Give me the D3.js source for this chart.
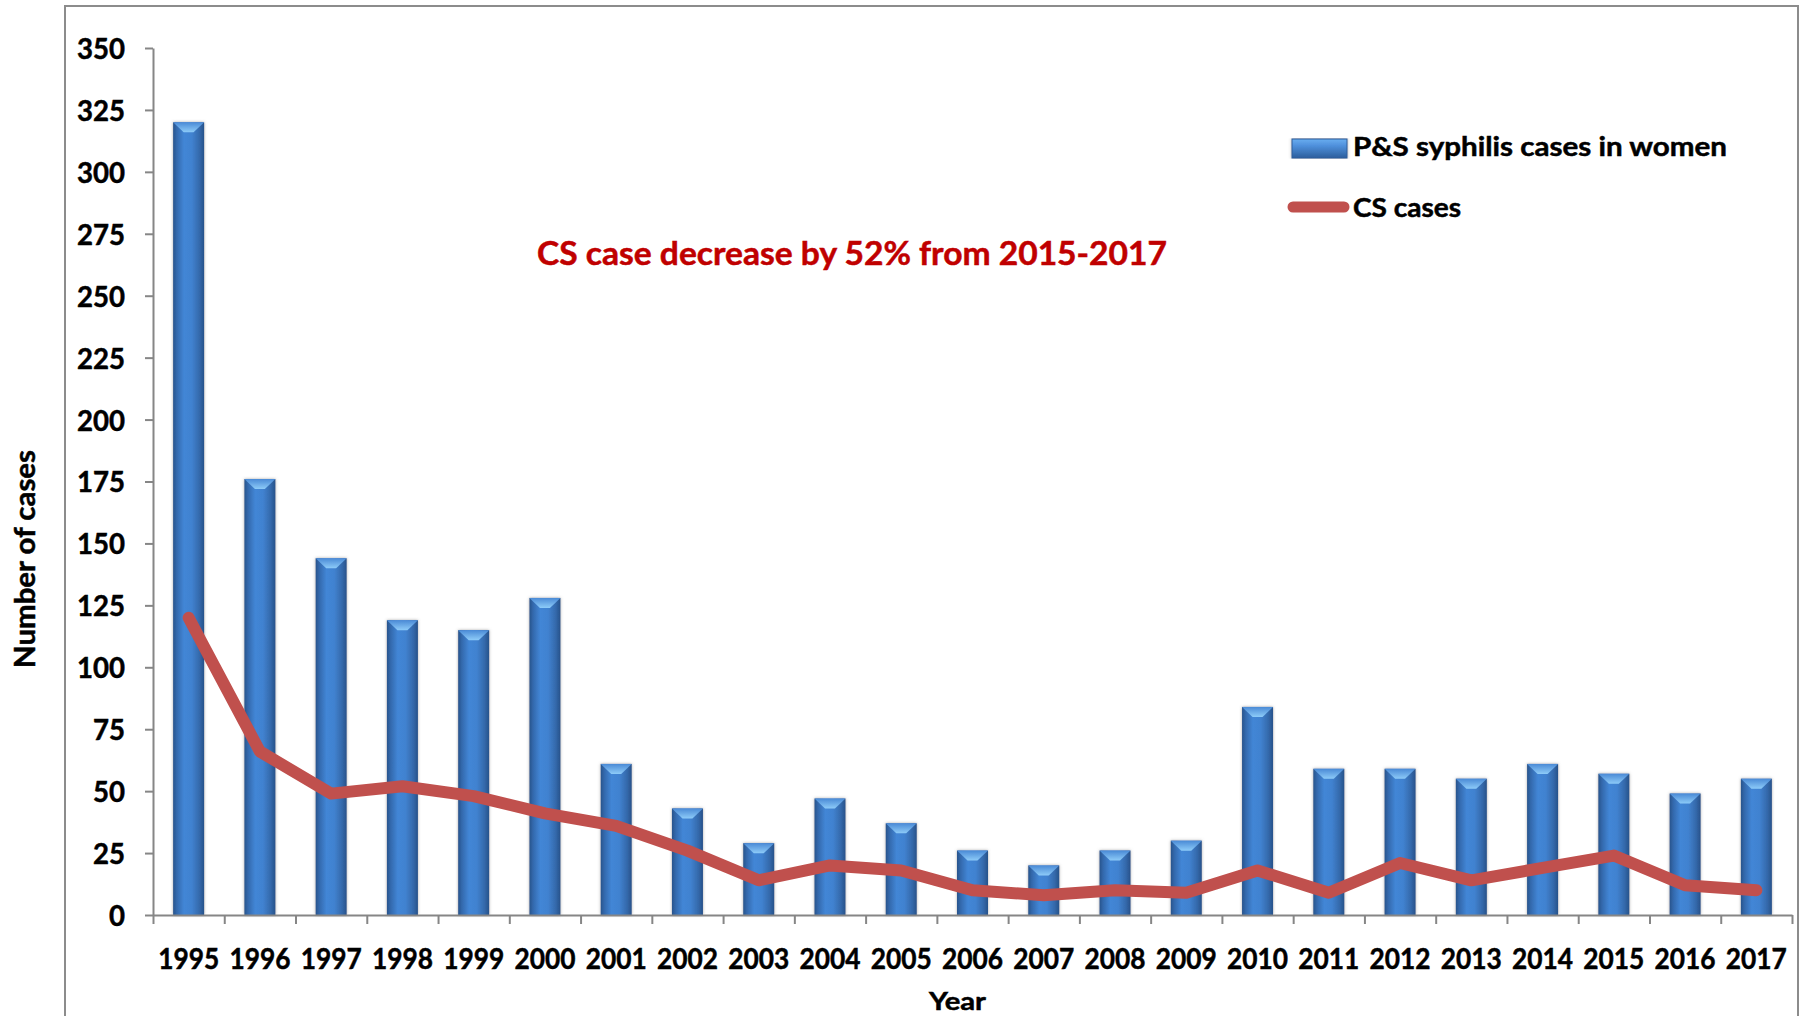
<!DOCTYPE html>
<html>
<head>
<meta charset="utf-8">
<script src="https://cdn.jsdelivr.net/npm/d3@7"></script>
<style>
  html, body { margin: 0; padding: 0; background: #ffffff; }
  svg { display: block; }
  text { font-family: Lato, "Open Sans", "DejaVu Sans", sans-serif; font-weight: 700; fill: #000; stroke: #000; stroke-width: 0.5px; }
  text.red { fill: #c00000; stroke: #c00000; }
</style>
</head>
<body>
<svg id="chart" width="1808" height="1016"></svg>
<script>
// ---------------- data ----------------
const years = ["1995","1996","1997","1998","1999","2000","2001","2002","2003","2004","2005",
               "2006","2007","2008","2009","2010","2011","2012","2013","2014","2015","2016","2017"];
const psWomen = [320, 176, 144, 119, 115, 128, 61, 43, 29, 47, 37, 26, 20, 26, 30, 84, 59, 59, 55, 61, 57, 49, 55];
const csCases = [120, 66, 49, 52, 48, 41, 36, 26, 14, 20, 18, 10, 8, 10, 9, 18, 9, 21, 14, 19, 24, 12, 10];
const yTicks = [0, 25, 50, 75, 100, 125, 150, 175, 200, 225, 250, 275, 300, 325, 350];
const seriesNames = ["P&S syphilis cases in women", "CS cases"];
const titleText = "CS case decrease by 52% from 2015-2017";
const xTitle = "Year";
const yTitle = "Number of cases";

// ---------------- layout ----------------
const svg = d3.select("#chart");
const X0 = 153, X1 = 1792, Y0 = 915, Y1 = 48;

const x = d3.scaleBand().domain(years).range([X0, X1]).paddingInner(0.565).paddingOuter(0.2825);
const xBound = d3.scaleLinear().domain([0, years.length]).range([X0, X1]);
const y = d3.scaleLinear().domain([0, 350]).range([Y0, Y1]);

const defs = svg.append("defs");
const bg = defs.append("linearGradient").attr("id", "barGrad").attr("x1", 0).attr("x2", 1).attr("y1", 0).attr("y2", 0);
[[0, "#28548c"], [0.12, "#3369ad"], [0.35, "#4286d6"], [0.6, "#4182d0"], [0.85, "#3469ab"], [1, "#27528a"]]
  .forEach(([o, c]) => bg.append("stop").attr("offset", o).attr("stop-color", c));
const cg = defs.append("linearGradient").attr("id", "capGrad").attr("x1", 0).attr("x2", 0).attr("y1", 0).attr("y2", 1);
[[0, "#4a8ad6"], [1, "#8dcbf8"]].forEach(([o, c]) => cg.append("stop").attr("offset", o).attr("stop-color", c));
const lg = defs.append("linearGradient").attr("id", "legGrad").attr("x1", 0).attr("x2", 0).attr("y1", 0).attr("y2", 1);
[[0, "#6aaef0"], [0.35, "#4f90dc"], [1, "#2c5e9c"]].forEach(([o, c]) => lg.append("stop").attr("offset", o).attr("stop-color", c));
const sh = defs.append("filter").attr("id", "shadow").attr("x", "-30%").attr("y", "-5%").attr("width", "160%").attr("height", "110%");
sh.append("feDropShadow").attr("dx", 0).attr("dy", 0).attr("stdDeviation", 1.4).attr("flood-color", "#666").attr("flood-opacity", 0.55);

// outer border
svg.append("rect").attr("x", 65).attr("y", 6).attr("width", 1733).attr("height", 1040)
  .attr("fill", "none").attr("stroke", "#8c8c8c").attr("stroke-width", 2);

// ---------------- bars ----------------
const bw = x.bandwidth();
const bars = svg.append("g").selectAll("g").data(years).join("g").attr("filter", "url(#shadow)");
bars.append("rect")
  .attr("x", d => x(d)).attr("y", (d, i) => y(psWomen[i]))
  .attr("width", bw).attr("height", (d, i) => y(0) - y(psWomen[i]))
  .attr("fill", "url(#barGrad)");
bars.append("polygon")
  .attr("points", (d, i) => {
    const l = x(d), t = y(psWomen[i]);
    return [[l, t], [l + bw, t], [l + bw * 0.66, t + 10], [l + bw * 0.34, t + 10]].map(p => p.join(",")).join(" ");
  })
  .attr("fill", "url(#capGrad)");

// ---------------- axes ----------------
const yAxis = d3.axisLeft(y).tickValues(yTicks).tickSizeInner(8).tickSizeOuter(0).tickPadding(20);
const gy = svg.append("g").attr("transform", `translate(${X0},0)`).call(yAxis);
gy.select(".domain").attr("stroke", "#868686").attr("stroke-width", 2);
gy.selectAll(".tick line").attr("stroke", "#868686").attr("stroke-width", 2);
gy.selectAll(".tick text").attr("font-size", 29).attr("font-family", null).attr("dy", "0.36em")
  .attr("textLength", d => String(d).length * 16).attr("lengthAdjust", "spacingAndGlyphs");

const xAxisTicks = d3.axisBottom(xBound).tickValues(d3.range(years.length + 1)).tickFormat("").tickSizeInner(9).tickSizeOuter(0);
const gx = svg.append("g").attr("transform", `translate(0,${Y0})`).call(xAxisTicks);
gx.select(".domain").attr("stroke", "#868686").attr("stroke-width", 2);
gx.selectAll(".tick line").attr("stroke", "#868686").attr("stroke-width", 2);

const xAxisLabels = d3.axisBottom(x).tickSize(0).tickPadding(0);
const gxl = svg.append("g").attr("transform", `translate(0,${Y0})`).call(xAxisLabels);
gxl.select(".domain").remove();
gxl.selectAll(".tick text").attr("font-size", 29).attr("font-family", null).attr("y", 54).attr("dy", 0)
  .attr("textLength", 61).attr("lengthAdjust", "spacingAndGlyphs");

// ---------------- line ----------------
const line = d3.line().x((d, i) => x(years[i]) + bw / 2).y(d => y(d));
svg.append("path").datum(csCases).attr("d", line)
  .attr("fill", "none").attr("stroke", "#c0504d").attr("stroke-width", 12)
  .attr("stroke-linejoin", "round").attr("stroke-linecap", "round");

// ---------------- titles ----------------
svg.append("text").attr("class", "red").attr("x", 537).attr("y", 264.5).attr("font-size", 33)
  .attr("textLength", 630).attr("lengthAdjust", "spacingAndGlyphs").text(titleText);

svg.append("text").attr("x", 929).attr("y", 1010).attr("font-size", 25)
  .attr("textLength", 57).attr("lengthAdjust", "spacingAndGlyphs").text(xTitle);

svg.append("text").attr("transform", "translate(35,559) rotate(-90)").attr("text-anchor", "middle")
  .attr("font-size", 28).attr("textLength", 218).attr("lengthAdjust", "spacingAndGlyphs").text(yTitle);

// ---------------- legend ----------------
const leg = svg.append("g");
leg.append("rect").attr("x", 1292).attr("y", 139).attr("width", 55).attr("height", 19)
  .attr("fill", "url(#legGrad)").attr("stroke", "#2c5e9c").attr("stroke-width", 1).attr("filter", "url(#shadow)");
leg.append("line").attr("x1", 1293).attr("x2", 1344).attr("y1", 207).attr("y2", 207)
  .attr("stroke", "#c0504d").attr("stroke-width", 11).attr("stroke-linecap", "round");
leg.append("text").attr("x", 1353).attr("y", 156).attr("font-size", 27)
  .attr("textLength", 374).attr("lengthAdjust", "spacingAndGlyphs").text(seriesNames[0]);
leg.append("text").attr("x", 1353).attr("y", 216.5).attr("font-size", 26)
  .attr("textLength", 108).attr("lengthAdjust", "spacingAndGlyphs").text(seriesNames[1]);
</script>
</body>
</html>
